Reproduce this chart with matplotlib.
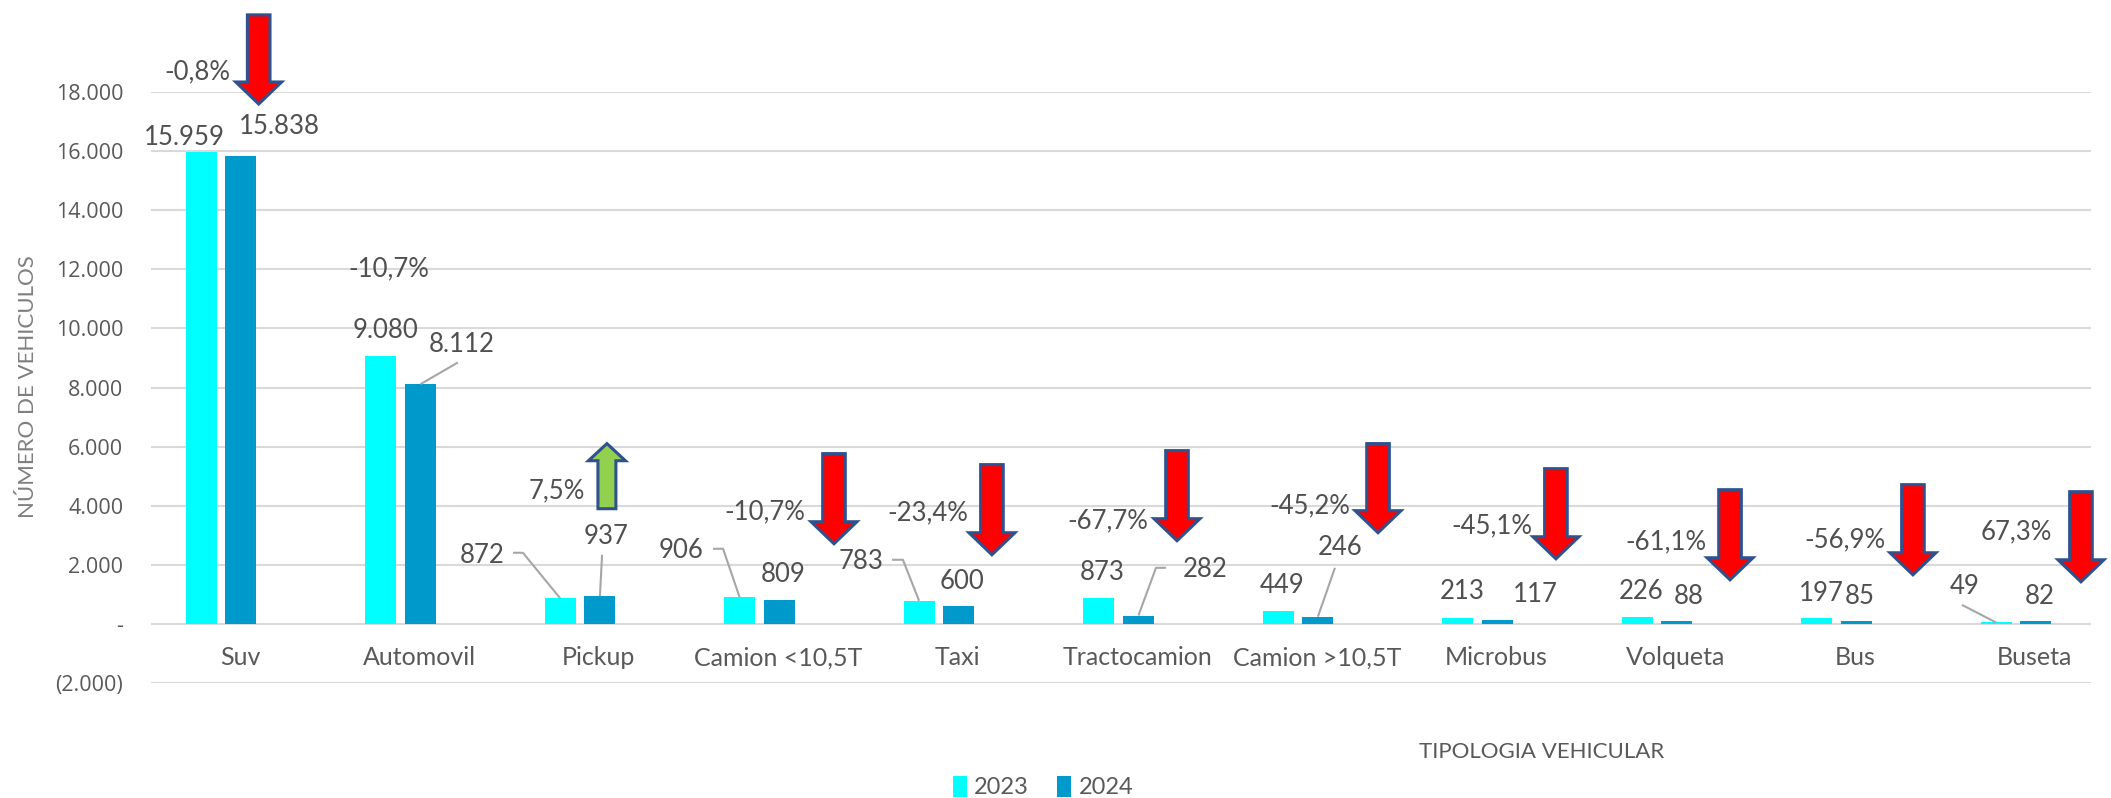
import matplotlib
matplotlib.use("Agg")
import matplotlib.pyplot as plt
from matplotlib.patches import Polygon, Patch
import numpy as np

# ---------------- data ----------------
categories = ["Suv", "Automovil", "Pickup", "Camion <10,5T", "Taxi", "Tractocamion",
              "Camion >10,5T", "Microbus", "Volqueta", "Bus", "Buseta"]
v2023 = [15959, 9080, 872, 906, 783, 873, 449, 213, 226, 197, 49]
v2024 = [15838, 8112, 937, 809, 600, 282, 246, 117, 88, 85, 82]
pct_labels = ["-0,8%", "-10,7%", "7,5%", "-10,7%", "-23,4%", "-67,7%",
              "-45,2%", "-45,1%", "-61,1%", "-56,9%", "67,3%"]
yticks = [-2000, 0, 2000, 4000, 6000, 8000, 10000, 12000, 14000, 16000, 18000]
series_names = ["2023", "2024"]

# ---------------- layout (label/arrow placement) ----------------
lab23_pos = [(-0.206, 16475), (-0.086, 9933), (-0.546, 2305), (-0.437, 2475), (-0.435, 2102),
             (-0.092, 1729), (-0.089, 1288), (-0.086, 1085), (-0.089, 1085), (-0.086, 1017),
             (-0.284, 1254)]
lab24_pos = [(0.323, 16848), (0.343, 9458), (0.145, 2949), (0.131, 1661), (0.128, 1424),
             (0.482, 1831), (0.234, 2576), (0.320, 983), (0.178, 915), (0.131, 915),
             (0.134, 915)]
pct_pos = [(-0.134, 18679), (-0.064, 12000), (-0.128, 4509), (0.031, 3797), (-0.061, 3763),
           (-0.058, 3492), (0.067, 4000), (0.081, 3322), (0.050, 2780), (0.047, 2848),
           (0.0, 3119)]
# (dx, y_tail, y_tip, color)
arrows = [(0.21, 20610, 17593, "#FF0000"), None, (0.15, 3898, 6102, "#92D050"),
          (0.415, 5763, 2712, "#FF0000"), (0.295, 5390, 2339, "#FF0000"),
          (0.326, 5864, 2814, "#FF0000"), (0.446, 6102, 3085, "#FF0000"),
          (0.437, 5254, 2203, "#FF0000"), (0.407, 4542, 1492, "#FF0000"),
          (0.426, 4712, 1661, "#FF0000"), (0.362, 4475, 1424, "#FF0000")]
# leader lines: (series, category, points before bar top)
leaders = [(1, 1, [(0.320, 8848)]),
           (0, 2, [(-0.373, 2407), (-0.318, 2407)]),
           (1, 2, [(0.123, 2339)]),
           (0, 3, [(-0.259, 2542), (-0.203, 2542)]),
           (0, 4, [(-0.262, 2170), (-0.201, 2170)]),
           (1, 5, [(0.265, 1898), (0.209, 1898)]),
           (1, 6, [(0.206, 1898)]),
           (0, 10, [(-0.301, 644)])]

C23 = "#00FFFF"
C24 = "#0099CC"
FONT = ["Lato", "DejaVu Sans"]
plt.rcParams["font.family"] = FONT

W, H = 2111, 798
fig = plt.figure(figsize=(W / 100, H / 100), dpi=100)
ax = fig.add_axes([151 / W, (H - 683) / H, (2091 - 151) / W, (683 - 92) / H])

x = np.arange(len(categories))
bw = 0.173
off = 0.111
ax.bar(x - off, v2023, width=bw, color=C23, zorder=3, label=series_names[0])
ax.bar(x + off, v2024, width=bw, color=C24, zorder=3, label=series_names[1])

ax.set_xlim(-0.39, 10.418)
ax.set_ylim(-2000, 18000)
ax.set_yticks(yticks)

def yfmt(v):
    if v == 0:
        return "-"
    s = f"{abs(v):,}".replace(",", ".")
    return f"({s})" if v < 0 else s

ax.set_yticklabels([yfmt(v) for v in yticks], fontsize=15.5, color="#595959",
                   family=["Open Sans", "DejaVu Sans"])
ax.tick_params(axis="y", length=0, pad=20)
ax.set_xticks([])
ax.grid(axis="y", color="#D9D9D9", lw=1.5, zorder=0)
for s in ax.spines.values():
    s.set_visible(False)

LBL = "#505050"
fs = 18.5
for i in range(len(categories)):
    ax.text(i + 0.105, -1150, categories[i], ha="center", va="center", fontsize=18,
            color="#595959")
    dx, yy = lab23_pos[i]
    ax.text(i + dx, yy, f"{v2023[i]:,}".replace(",", "."), ha="center", va="center",
            fontsize=fs, color=LBL, zorder=5)
    dx, yy = lab24_pos[i]
    ax.text(i + dx, yy, f"{v2024[i]:,}".replace(",", "."), ha="center", va="center",
            fontsize=fs, color=LBL, zorder=5)
    dx, yy = pct_pos[i]
    ax.text(i + dx, yy, pct_labels[i], ha="center", va="center", fontsize=fs,
            color=LBL, zorder=5)

for ser, cat, pts in leaders:
    vals = v2023 if ser == 0 else v2024
    bx = cat + (off if ser == 1 else -off)
    xs = [cat + p[0] for p in pts] + [bx]
    ys = [p[1] for p in pts] + [vals[cat]]
    ax.plot(xs, ys, color="#A6A6A6", lw=1.5, zorder=4, solid_capstyle="butt")

def draw_arrow(xc, y0, y1, color, sw=0.063, hw=0.128, hl=746):
    d = 1 if y1 > y0 else -1
    yb = y1 - d * hl
    pts = [(xc - sw, y0), (xc + sw, y0), (xc + sw, yb), (xc + hw, yb), (xc, y1),
           (xc - hw, yb), (xc - sw, yb)]
    ax.add_patch(Polygon(pts, closed=True, facecolor=color, edgecolor="#2F528F",
                         lw=2.2, zorder=6, clip_on=False, joinstyle="miter"))

for i, a in enumerate(arrows):
    if a is None:
        continue
    dx, y0, y1, col = a
    if y1 > y0:
        draw_arrow(i + dx, y0, y1, col, sw=0.05, hw=0.103, hl=580)
    else:
        draw_arrow(i + dx, y0, y1, col)

fig.text(28 / W, 1 - 387 / H, "NÚMERO DE VEHICULOS", rotation=90, ha="center",
         va="center", fontsize=16, color="#7F7F7F")
fig.text(1542 / W, 1 - 752 / H, "TIPOLOGIA VEHICULAR", ha="center", va="center",
         fontsize=16, color="#595959")

handles = [Patch(facecolor=C23, label=series_names[0]),
           Patch(facecolor=C24, label=series_names[1])]
leg = fig.legend(handles=handles, loc="center", bbox_to_anchor=(1043 / W, 1 - 787 / H),
                 ncol=2, frameon=False, fontsize=17, handlelength=0.6, handleheight=1.0,
                 handletextpad=0.3, columnspacing=1.2)
for t in leg.get_texts():
    t.set_color("#595959")

fig.savefig("out.png", dpi=100)
